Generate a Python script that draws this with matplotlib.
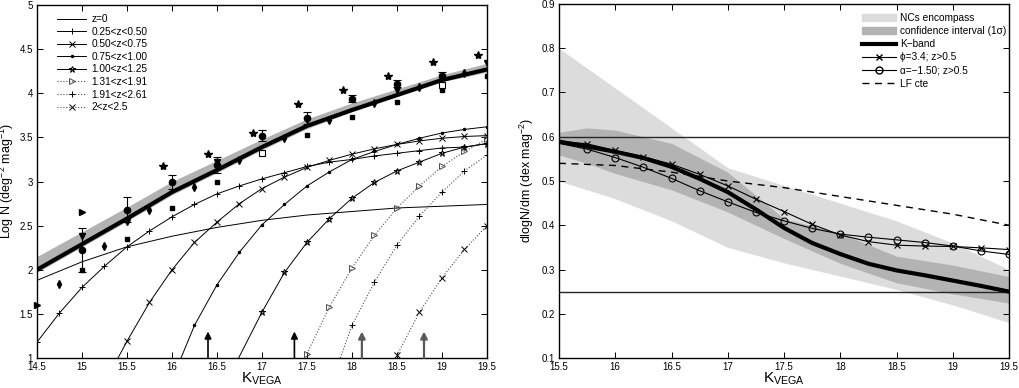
import numpy as np
import matplotlib
matplotlib.use('Agg')
import matplotlib.pyplot as plt
from matplotlib.patches import Patch
from matplotlib.lines import Line2D

plt.rcParams['font.family'] = ['Liberation Sans', 'DejaVu Sans']
plt.rcParams['mathtext.default'] = 'regular'

# ---------------- left panel: number counts ----------------
k_band = [14.5, 15.0, 15.5, 16.0, 16.5, 17.0, 17.5, 18.0, 18.5, 19.0, 19.5]
logn_band = [2.0, 2.29, 2.58, 2.88, 3.13, 3.39, 3.63, 3.81, 3.98, 4.15, 4.27]
band_lo = [1.97, 2.26, 2.55, 2.85, 3.10, 3.36, 3.60, 3.79, 3.96, 4.13, 4.24]
band_hi = [2.15, 2.43, 2.71, 3.00, 3.24, 3.48, 3.71, 3.89, 4.05, 4.21, 4.34]

k_z0 = [14.5, 15.0, 15.5, 16.0, 16.5, 17.0, 17.5, 18.0, 18.5, 19.0, 19.5]
n_z0 = [1.88, 2.09, 2.26, 2.38, 2.48, 2.56, 2.62, 2.66, 2.70, 2.72, 2.74]

k_z1 = [14.5, 14.75, 15.0, 15.25, 15.5, 15.75, 16.0, 16.25, 16.5, 16.75, 17.0,
        17.25, 17.5, 17.75, 18.0, 18.25, 18.5, 18.75, 19.0, 19.25, 19.5]
n_z1 = [1.18, 1.51, 1.80, 2.04, 2.26, 2.44, 2.60, 2.74, 2.86, 2.95, 3.03,
        3.10, 3.17, 3.22, 3.25, 3.29, 3.32, 3.35, 3.38, 3.39, 3.43]

k_z2 = [15.40, 15.5, 15.75, 16.0, 16.25, 16.5, 16.75, 17.0, 17.25, 17.5, 17.75,
        18.0, 18.25, 18.5, 18.75, 19.0, 19.25, 19.5]
n_z2 = [1.0, 1.19, 1.63, 2.0, 2.31, 2.54, 2.75, 2.92, 3.05, 3.16, 3.24,
        3.31, 3.37, 3.42, 3.46, 3.49, 3.51, 3.52]

k_z3 = [16.1, 16.25, 16.5, 16.75, 17.0, 17.25, 17.5, 17.75, 18.0, 18.25,
        18.5, 18.75, 19.0, 19.25, 19.5]
n_z3 = [1.0, 1.37, 1.83, 2.20, 2.51, 2.74, 2.95, 3.11, 3.25, 3.34,
        3.42, 3.49, 3.55, 3.59, 3.62]

k_z4 = [16.74, 17.0, 17.25, 17.5, 17.75, 18.0, 18.25, 18.5, 18.75, 19.0, 19.25, 19.5]
n_z4 = [1.0, 1.52, 1.97, 2.31, 2.58, 2.81, 2.99, 3.12, 3.22, 3.32, 3.39, 3.43]

k_z5 = [17.5, 17.75, 18.0, 18.25, 18.5, 18.75, 19.0, 19.25, 19.5]
n_z5 = [1.05, 1.58, 2.02, 2.39, 2.70, 2.95, 3.17, 3.34, 3.48]

k_z6 = [17.87, 18.0, 18.25, 18.5, 18.75, 19.0, 19.25, 19.5]
n_z6 = [1.0, 1.37, 1.86, 2.28, 2.61, 2.88, 3.12, 3.30]

k_z7 = [18.5, 18.75, 19.0, 19.25, 19.5]
n_z7 = [1.03, 1.52, 1.91, 2.23, 2.50]

# observed counts
k_star = [15.9, 16.4, 16.9, 17.4, 17.9, 18.4, 18.9, 19.4]
n_star = [3.18, 3.31, 3.55, 3.88, 4.04, 4.20, 4.35, 4.43]
k_circ = [15.0, 15.5, 16.0, 16.5, 17.0, 17.5, 18.0, 18.5, 19.0]
n_circ = [2.22, 2.68, 2.99, 3.19, 3.52, 3.72, 3.94, 4.11, 4.20]
e_circ = [0.25, 0.14, 0.08, 0.09, 0.06, 0.07, 0.04, 0.04, 0.04]
k_diam = [14.75, 15.25, 15.75, 16.25, 16.75, 17.25, 17.75, 18.25, 18.75, 19.25]
n_diam = [1.84, 2.27, 2.68, 2.94, 3.24, 3.49, 3.70, 3.89, 4.07, 4.23]
k_sq = [15.0, 15.5, 16.0, 16.5, 17.5, 18.0, 18.5, 19.0, 19.5]
n_sq = [2.0, 2.35, 2.70, 3.0, 3.53, 3.73, 3.90, 4.04, 4.19]
k_osq = [17.0, 19.0]
n_osq = [3.32, 4.09]
k_tri = [15.0, 15.5, 16.5, 17.5, 18.5, 19.0, 19.5]
n_tri = [2.38, 2.54, 3.22, 3.70, 4.04, 4.18, 4.34]
k_rtri = [14.5, 15.0]
n_rtri = [1.60, 2.65]

arrow_k = [16.4, 17.36, 18.11, 18.8]

# ---------------- right panel: slopes ----------------
k_slope = [15.5, 15.75, 16.0, 16.25, 16.5, 16.75, 17.0, 17.25, 17.5, 17.75,
           18.0, 18.25, 18.5, 18.75, 19.0, 19.25, 19.5]
slope_k = [0.589, 0.578, 0.566, 0.552, 0.532, 0.505, 0.475, 0.436, 0.394, 0.36,
           0.335, 0.313, 0.298, 0.287, 0.275, 0.263, 0.25]
slope_phi = [0.59, 0.584, 0.569, 0.555, 0.538, 0.515, 0.489, 0.459, 0.431, 0.402,
             0.378, 0.363, 0.355, 0.353, 0.352, 0.349, 0.345]
slope_alpha = [0.585, 0.572, 0.553, 0.531, 0.506, 0.478, 0.453, 0.429, 0.41, 0.393,
               0.38, 0.373, 0.367, 0.361, 0.353, 0.342, 0.334]

k_lf = [15.5, 16.0, 16.5, 17.0, 17.5, 18.0, 18.5, 19.0, 19.5]
slope_lf = [0.54, 0.535, 0.52, 0.50, 0.485, 0.465, 0.445, 0.425, 0.40]

k_nc = [15.5, 16.0, 16.5, 17.0, 17.5, 18.0, 18.5, 19.0, 19.5]
nc_hi = [0.80, 0.71, 0.62, 0.53, 0.49, 0.45, 0.41, 0.36, 0.30]
nc_lo = [0.50, 0.46, 0.41, 0.35, 0.315, 0.285, 0.255, 0.22, 0.18]

k_ci = [15.5, 15.75, 16.0, 16.5, 17.0, 17.5, 18.0, 18.5, 19.0, 19.5]
ci_hi = [0.61, 0.62, 0.615, 0.585, 0.52, 0.415, 0.382, 0.33, 0.31, 0.284]
ci_lo = [0.559, 0.54, 0.517, 0.48, 0.43, 0.37, 0.314, 0.27, 0.245, 0.224]

hlines = [0.6, 0.25]

fig = plt.figure(figsize=(10.19, 3.88), dpi=100)
ax1 = fig.add_axes([37/1019, 30/388, 450/1019, 353/388])
ax2 = fig.add_axes([559/1019, 30/388, 450/1019, 354/388])

# left
ax1.fill_between(k_band, band_lo, band_hi, color='#b2b2b2', lw=0, zorder=1)
ax1.plot(k_band, logn_band, color='k', lw=3, zorder=3)

ax1.plot(k_z0, n_z0, color='k', lw=0.7, label='z=0')
ax1.plot(k_z1, n_z1, color='k', lw=0.7, marker='+', ms=5, mew=0.7, label='0.25<z<0.50')
ax1.plot(k_z2, n_z2, color='k', lw=0.7, marker='x', ms=4, mew=0.7,
         markevery=slice(1, None), label='0.50<z<0.75')
ax1.plot(k_z3, n_z3, color='k', lw=0.7, marker='.', ms=3,
         markevery=slice(1, None), label='0.75<z<1.00')
ax1.plot(k_z4, n_z4, color='k', lw=0.7, marker='*', ms=5, mfc='none', mew=0.7,
         markevery=slice(1, None), label='1.00<z<1.25')
ax1.plot(k_z5, n_z5, color='0.3', lw=0.8, ls=':', marker='>', ms=5, mfc='none', mew=0.7,
         label='1.31<z<1.91')
ax1.plot(k_z6, n_z6, color='0.3', lw=0.8, ls=':', marker='+', ms=5, mec='k', mew=0.7,
         markevery=slice(1, None), label='1.91<z<2.61')
ax1.plot(k_z7, n_z7, color='0.3', lw=0.8, ls=':', marker='x', ms=4, mec='k', mew=0.7,
         label='2<z<2.5')

ax1.errorbar(k_circ, n_circ, yerr=e_circ, fmt='o', color='k', ms=4.5, capsize=3,
             elinewidth=0.8, capthick=0.8, zorder=5)
ax1.plot(k_star, n_star, '*', color='k', ms=6, zorder=5)
ax1.plot(k_diam, n_diam, 'd', color='k', ms=4, zorder=5)
ax1.plot(k_sq, n_sq, 's', color='k', ms=3.5, zorder=5)
ax1.plot(k_osq, n_osq, 's', mec='k', mfc='white', mew=0.8, ms=4, zorder=5)
ax1.plot(k_tri, n_tri, 'v', color='k', ms=4, zorder=5)
ax1.plot(k_rtri, n_rtri, '>', color='k', ms=4.5, zorder=5, clip_on=False)

for i, k in enumerate(arrow_k):
    c = 'k' if i < 2 else '0.35'
    ax1.annotate('', xy=(k, 1.3), xytext=(k, 1.0),
                 arrowprops=dict(arrowstyle='-|>', color=c, lw=1.2 if i < 2 else 1.6,
                                 mutation_scale=10, shrinkA=0, shrinkB=0))

ax1.set_xlim(14.5, 19.5)
ax1.set_ylim(1, 5)
ax1.set_xticks(np.arange(14.5, 19.6, 0.5))
ax1.set_xticklabels(['14.5', '15', '15.5', '16', '16.5', '17', '17.5', '18', '18.5', '19', '19.5'])
ax1.set_yticks(np.arange(1, 5.1, 0.5))
ax1.set_yticklabels(['1', '1.5', '2', '2.5', '3', '3.5', '4', '4.5', '5'])
ax1.set_xlabel('K$_{VEGA}$', fontsize=11, labelpad=-1)
ax1.set_ylabel('Log N (deg$^{-2}$ mag$^{-1}$)', fontsize=9)
ax1.yaxis.set_label_coords(-0.046, 0.5)
ax1.legend(loc='upper left', bbox_to_anchor=(0.035, 0.985), frameon=False, fontsize=7.3,
           numpoints=1, handlelength=2.9, labelspacing=0.25, handletextpad=0.5,
           borderaxespad=0)

# right
ax2.fill_between(k_nc, nc_lo, nc_hi, color='#dcdcdc', lw=0, zorder=1)
ax2.fill_between(k_ci, ci_lo, ci_hi, color='#b3b3b3', lw=0, zorder=2)
for h in hlines:
    ax2.axhline(h, color='0.15', lw=1, zorder=3)
ax2.plot(k_lf, slope_lf, color='k', ls=(0, (5, 4)), lw=1, zorder=4)
ax2.plot(k_slope, slope_phi, color='k', lw=0.8, marker='x', ms=4, mew=0.8, zorder=5,
         markevery=slice(1, None))
ax2.plot(k_slope, slope_alpha, color='k', lw=0.8, marker='o', ms=5, mfc='none', mew=0.8,
         zorder=5, markevery=slice(1, None))
ax2.plot(k_slope, slope_k, color='k', lw=3, zorder=6)

ax2.set_xlim(15.5, 19.5)
ax2.set_ylim(0.1, 0.9)
ax2.set_xticks(np.arange(15.5, 19.6, 0.5))
ax2.set_xticklabels(['15.5', '16', '16.5', '17', '17.5', '18', '18.5', '19', '19.5'])
ax2.set_yticks(np.arange(0.1, 0.91, 0.1))
ax2.set_yticklabels(['0.1', '0.2', '0.3', '0.4', '0.5', '0.6', '0.7', '0.8', '0.9'])
ax2.set_xlabel('K$_{VEGA}$', fontsize=11, labelpad=-1)
ax2.set_ylabel('dlogN/dm (dex mag$^{-2}$)', fontsize=9)
ax2.yaxis.set_label_coords(-0.05, 0.5)

handles = [Patch(color='#dcdcdc'), Patch(color='#b3b3b3'),
           Line2D([], [], color='k', lw=3),
           Line2D([], [], color='k', lw=0.8, marker='x', ms=4),
           Line2D([], [], color='k', lw=0.8, marker='o', ms=5, mfc='none'),
           Line2D([], [], color='k', lw=1, ls=(0, (5, 4)))]
labels = ['NCs encompass', 'confidence interval (1σ)', 'K−band',
          'ϕ=3.4; z>0.5', 'α=−1.50; z>0.5', 'LF cte']
ax2.legend(handles, labels, loc='upper left', bbox_to_anchor=(0.665, 0.985), frameon=False,
           fontsize=7.3, numpoints=1, handlelength=3.3, labelspacing=0.3,
           handletextpad=0.4, borderaxespad=0)

for ax in (ax1, ax2):
    ax.tick_params(direction='in', top=True, right=True, length=4, width=0.7,
                   labelsize=7, pad=3)
    for s in ax.spines.values():
        s.set_linewidth(1)

fig.savefig('out.png', dpi=100)
